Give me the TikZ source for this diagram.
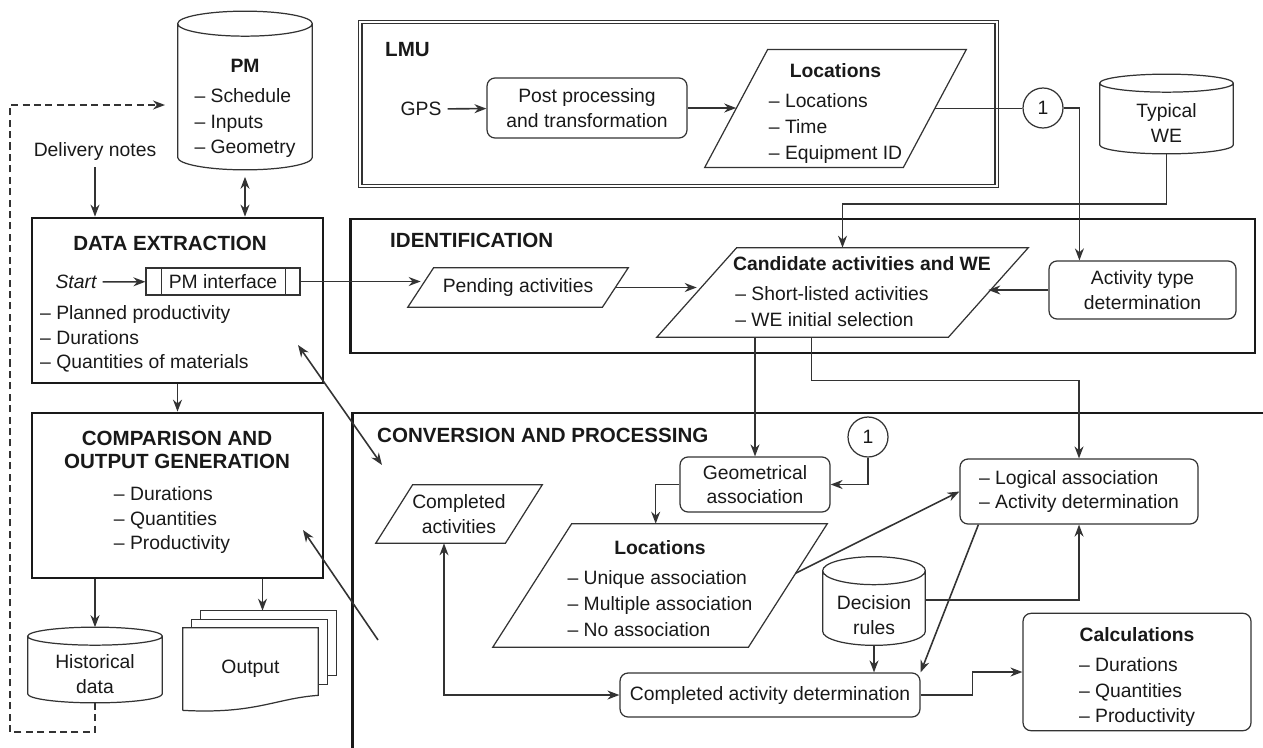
\documentclass[tikz,border=0pt]{standalone}
\usepackage{fontspec}
\setmainfont{Liberation Sans}
\usetikzlibrary{positioning}
\usetikzlibrary{calc}
\usetikzlibrary{arrows.meta}
\colorlet{line colour}{black!80}
\colorlet{frame colour}{black!90}
\colorlet{text colour}{black!90}
\tikzset{
    % Filled arrow heads, as in the flow chart
    >={Stealth[length=2.4mm, width=1.8mm]},
%
    % Lines
    box line/.style={draw=line colour, line width=0.7pt},
    frame line/.style={draw=frame colour, line width=1.6pt},
    flow/.style={draw=line colour, line width=0.9pt, ->},
    feedback/.style={flow, dash pattern=on 4pt off 2.5pt},
%
    % We almost always want centre aligned node text
    every node/.style={align=center, text=text colour,
        font=\fontsize{11}{14}\selectfont},
}
\newcommand{\secfont}{\fontsize{11.7}{13.5}\selectfont\bfseries}
\newcommand{\boxtitle}[1]{\rule{0pt}{16pt}\textbf{#1}\\[3pt]}
\newcommand{\itemlist}[1]{\begin{tabular}[t]{@{}l@{}}#1\end{tabular}}
\renewcommand{\arraystretch}{1.05}

% Parallelogram round a node: bottom left and top right are its corners
\newcommand{\slantoutline}[2]{%
    \coordinate (#1 tl) at ($(#1.north west)+(#2,0)$);
    \coordinate (#1 br) at ($(#1.south east)+(-#2,0)$);
    \coordinate (#1 left) at ($(#1.south west)!0.5!(#1 tl)$);
    \coordinate (#1 right) at ($(#1 br)!0.5!(#1.north east)$);
    \draw [box line] (#1.south west) -- (#1 br) -- (#1.north east)
        -- (#1 tl) -- cycle;
}
% Database drum round a node, lid of half height #2 above it
\newcommand{\drumoutline}[2]{%
    \draw [box line]
        let \p1=(#1.north west), \p2=(#1.south east), \n1={(\x2-\x1)/2} in
        (\x1,\y1+#2) -- (\x1,\y2+#2)
        arc [start angle=180, end angle=360, x radius=\n1*1pt, y radius=#2]
        -- (\x2,\y1+#2)
        arc [start angle=0, end angle=360, x radius=\n1*1pt, y radius=#2];
    \coordinate (#1 top) at ($(#1.north)+(0pt,2*#2)$);
}

\begin{document}
\begin{tikzpicture}[
    x=0.02cm, y=-0.02cm,
    plain box/.style={rectangle, inner sep=0},
    rounded box/.style={plain box, box line, rounded corners=0.16cm},
    stage/.style={plain box, frame line},
    ref mark/.style={circle, box line, minimum size=0.8cm, inner sep=0},
]
\useasboundingbox (0,0) rectangle (1263,747);

% Project model and the data extraction side
\node [plain box, minimum width=2.68cm, minimum height=2.66cm] (pm)
    at (245,103) {\boxtitle{PM}\itemlist{-- Schedule\\-- Inputs\\-- Geometry}};
\drumoutline{pm}{0.25cm}
\node (delivery) at (95,152) {Delivery notes};

\node [stage, minimum width=5.82cm, minimum height=3.3cm] (de) at (177.5,300.5) {};
\node [font=\secfont] (de title) at (170,243) {DATA EXTRACTION};
\node [plain box, box line, minimum width=3.08cm, minimum height=0.54cm] (pmi)
    at (223,281.5) {PM interface};
\draw [box line]
    ($(pmi.north west)+(16,0)$) -- ($(pmi.south west)+(16,0)$)
    ($(pmi.north east)+(-15,0)$) -- ($(pmi.south east)+(-15,0)$);
\node (start) at (76,282) {\itshape Start};
\node [anchor=west, align=left] (de list) at (34,339)
    {-- Planned productivity\\-- Durations\\-- Quantities of materials};

\node [stage, minimum width=5.82cm, minimum height=3.3cm] (comp) at (177.5,495.5) {};
\node [font=\secfont] (comp title) at (177,450)
    {COMPARISON AND\\OUTPUT GENERATION};
\node [align=left] (comp list) at (172,520)
    {-- Durations\\-- Quantities\\-- Productivity};

\node [plain box, minimum width=2.68cm, minimum height=1.14cm] (hist)
    at (95,674) {Historical\\data};
\drumoutline{hist}{0.18cm}

% Stack of output documents
\node [plain box, minimum width=2.7cm, minimum height=1.64cm] (out)
    at (250.5,669) {Output};
\draw [box line] (out.south west) -- (out.north west) -- (out.north east)
    -- ($(out.south east)+(0,-15)$)
    .. controls ($(out.south east)+(-43,-12)$) and ($(out.south east)+(-63,4)$)
    .. (out.south west);
\draw [box line] ($(out.north west)+(9,0)$) -- ++(0,-8) -- ++(136,0)
    -- ++(0,65) -- ++(-10,0);
\draw [box line] ($(out.north west)+(18,-8)$) -- ++(0,-9) -- ++(136,0)
    -- ++(0,65) -- ++(-9,0);

% LMU
\node [plain box, minimum width=12.74cm, minimum height=3.28cm,
    draw=line colour, line width=0.7pt, double, double distance=0.05cm]
    (lmu) at (678.5,104) {};
\node [anchor=west, font=\secfont] (lmu title) at (379,50) {LMU};
\node (gps) at (421,109) {GPS};
\node [rounded box, minimum width=4cm, minimum height=1.2cm] (post)
    at (587,108) {Post processing\\and transformation};
\node [plain box, minimum width=5.22cm, minimum height=2.34cm] (loc1)
    at (835.5,108.5)
    {\boxtitle{Locations}\itemlist{-- Locations\\-- Time\\-- Equipment ID}};
\slantoutline{loc1}{63}
\node [ref mark] (mark a) at (1043,108) {1};

\node [plain box, minimum width=2.66cm, minimum height=1.22cm] (typical)
    at (1166.5,123) {Typical\\WE};
\drumoutline{typical}{0.18cm}

% Identification
\node [stage, minimum width=18.1cm, minimum height=2.68cm] (ident) at (802.5,286) {};
\node [anchor=west, font=\secfont] (ident title) at (384,240) {IDENTIFICATION};
\node [plain box, minimum width=4.4cm, minimum height=0.78cm] (pending)
    at (518,287.5) {Pending activities};
\slantoutline{pending}{26}
\node [plain box, minimum width=7.42cm, minimum height=1.78cm] (cand)
    at (842.5,292.5) {};
\slantoutline{cand}{80}
\node (cand text) at (862,288) {\boxtitle{Candidate activities and WE}
    \itemlist{-- Short-listed activities\\-- WE initial selection}\hspace*{1.2cm}};
\node [rounded box, minimum width=3.74cm, minimum height=1.16cm] (act)
    at (1142.5,290) {Activity type\\determination};

% Conversion and processing
\node [stage, minimum width=18.96cm, minimum height=7.54cm] (conv) at (826,601.5) {};
\node [anchor=west, font=\secfont] (conv title) at (371,435)
    {CONVERSION AND PROCESSING};
\node [plain box, minimum width=3.32cm, minimum height=1.16cm] (compl)
    at (459,514) {Completed\\activities};
\slantoutline{compl}{37}
\node [rounded box, minimum width=3cm, minimum height=1.1cm] (geo)
    at (755,484.5) {Geometrical\\association};
\node [ref mark] (mark b) at (868,437) {1};
\node [plain box, minimum width=6.68cm, minimum height=2.46cm] (loc2)
    at (660,585.5) {\boxtitle{Locations}
    \itemlist{-- Unique association\\-- Multiple association\\-- No association}};
\slantoutline{loc2}{79}
\node [rounded box, minimum width=4.76cm, minimum height=1.3cm, align=left] (logic)
    at (1079,491.5) {-- Logical association\\-- Activity determination};
\node [plain box, minimum width=2.04cm, minimum height=1.2cm] (rules)
    at (874,615) {Decision\\rules};
\drumoutline{rules}{0.28cm}
\node [rounded box, minimum width=6cm, minimum height=0.88cm] (cad)
    at (770,695) {Completed activity determination};
\node [rounded box, minimum width=4.56cm, minimum height=2.24cm] (calc)
    at (1137,672) {\boxtitle{Calculations}
    \itemlist{-- Durations\\-- Quantities\\-- Productivity}};

% Connectors on the left
\draw [flow] (delivery.south) -- (delivery.south |- de.north);
\draw [flow, <->] ($(pm.south)+(0,7)$) -- (pm.south |- de.north);
\coordinate (loop corner) at (10,732);
\coordinate (loop end) at (165,105);
\draw [feedback] (hist.south) |- (loop corner) |- (loop end);
\draw [flow] (start) -- (pmi);
\draw [flow] (de) -- (comp);
\draw [flow] (comp.south -| hist top) -- (hist top);
\coordinate (out top) at ($(out.north)+(12,-17)$);
\draw [flow] (comp.south -| out top) -- (out top);

% Connectors of LMU and identification
\draw [flow] (gps) -- (post);
\draw [flow] (post.east) -- (post.east -| loc1 left);
\draw [flow, -] (loc1 right) -- (loc1 right -| mark a.west);
\draw [flow] (mark a.east) -| ($(act.north west)+(31,0)$);
\draw [flow] (typical.south) -- ++(0,50) -| (cand.north);
\draw [flow] (pmi.east) -- (pmi.east -| pending left);
\draw [flow] (pending right) -- (pending right -| cand left);
\draw [flow] (act.west) -- (act.west -| cand right);
\draw [flow] (geo.north |- cand.south) -- (geo.north);
\draw [flow] ($(cand.south)+(-31,0)$) -- ++(0,43) -| (logic.north);

% Connectors of conversion and processing
\draw [flow] (mark b.south) |- (geo.east);
\draw [flow] (geo.west) -| ($(loc2 tl)+(84,0)$);
\draw [flow] ($(loc2 br)!0.6!(loc2.north east)$) -- (logic.west);
\draw [flow] ($(rules.east)+(0,-15)$) -| (logic.south);
\draw [flow] (rules.south) -- (rules.south |- cad.north);
\draw [flow] ($(logic.south west)+(19,0)$) -- (cad.north east);
\draw [flow, <->] ($(compl.south)+(-15,0)$) |- (cad.west);
\draw [flow] (cad.east) -- ++(52,0) |- (calc.west);

% Links between the stages
\coordinate (de tip) at (298,345);
\coordinate (conv tip) at (382,465);
\draw [flow, <->] (de tip) -- (conv tip);
\coordinate (conv tail) at (378,640);
\coordinate (comp tip) at (303,530);
\draw [flow] (conv tail) -- (comp tip);

\end{tikzpicture}
\end{document}
